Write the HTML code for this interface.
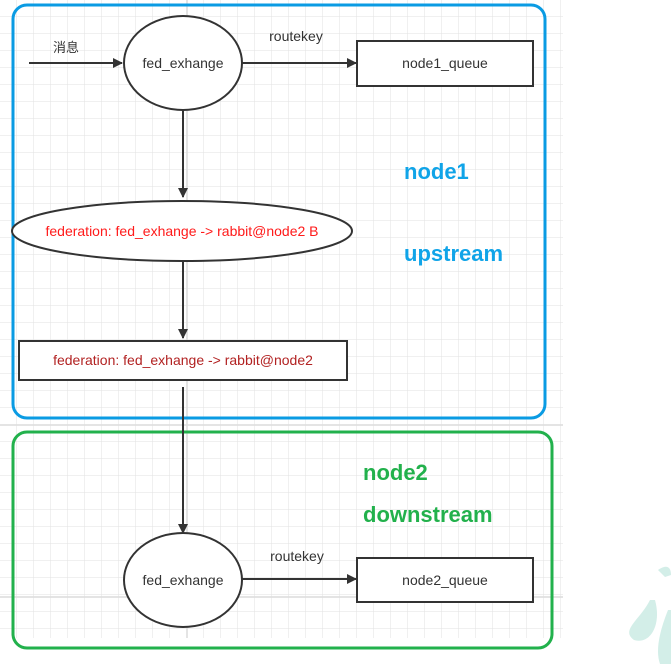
<!DOCTYPE html>
<html><head><meta charset="utf-8"><style>
html,body{margin:0;padding:0;background:#fff;}
svg{display:block;font-family:"Liberation Sans","Noto Sans CJK SC",sans-serif;}
</style></head><body>
<svg width="671" height="664" viewBox="0 0 671 664" xmlns="http://www.w3.org/2000/svg">
<defs>
<pattern id="g" x="0" y="0" width="17" height="17" patternUnits="userSpaceOnUse">
<path d="M17 0V17M0 17H17" stroke="#e2e2e2" stroke-width="1" fill="none"/>
</pattern>
<marker id="a" markerWidth="10" markerHeight="10" refX="9" refY="5" orient="auto" markerUnits="userSpaceOnUse">
<path d="M0,0 L10,5 L0,10 Z" fill="#333"/>
</marker>
</defs>
<rect x="0" y="0" width="563" height="638" fill="url(#g)"/>
<g stroke="#dcdcdc" stroke-width="1.5">
<line x1="0" y1="425" x2="563" y2="425"/>
<line x1="0" y1="597" x2="563" y2="597"/>
<line x1="187" y1="0" x2="187" y2="638"/>
</g>
<path d="M650 600 C 640 620, 620 630, 634 640 C 650 645, 662 625, 655 600 Z" fill="#d3eee8"/>
<path d="M668 610 C 660 630, 655 650, 660 664 L671 664 L671 610 Z" fill="#d3eee8"/>
<path d="M658 570 C 665 565, 671 565, 671 575 L665 577 Z" fill="#d3eee8"/>
<rect x="13" y="5" width="532" height="413" rx="14" fill="none" stroke="#0a9be3" stroke-width="3"/>
<rect x="13" y="432" width="539" height="216" rx="14" fill="none" stroke="#22b14c" stroke-width="3"/>
<g stroke="#333" stroke-width="2" fill="none">
<line x1="29" y1="63" x2="122" y2="63" marker-end="url(#a)"/>
<line x1="242" y1="63" x2="356" y2="63" marker-end="url(#a)"/>
<line x1="183" y1="110" x2="183" y2="197" marker-end="url(#a)"/>
<line x1="183" y1="262" x2="183" y2="338" marker-end="url(#a)"/>
<line x1="183" y1="387" x2="183" y2="533" marker-end="url(#a)"/>
<line x1="242" y1="579" x2="356" y2="579" marker-end="url(#a)"/>
</g>
<g stroke="#333" stroke-width="2" fill="#fff">
<ellipse cx="183" cy="63" rx="59" ry="47"/>
<ellipse cx="182" cy="231" rx="170" ry="30"/>
<rect x="19" y="341" width="328" height="39"/>
<ellipse cx="183" cy="580" rx="59" ry="47"/>
<rect x="357" y="41" width="176" height="45"/>
<rect x="357" y="558" width="176" height="44"/>
</g>
<g font-size="14" fill="#333" text-anchor="middle">
<text x="66" y="52" font-size="13">消息</text>
<text x="296" y="41">routekey</text>
<text x="297" y="561">routekey</text>
<text x="183" y="68">fed_exhange</text>
<text x="183" y="585">fed_exhange</text>
<text x="445" y="68">node1_queue</text>
<text x="445" y="585">node2_queue</text>
</g>
<text x="182" y="236" font-size="14" fill="#ff1a1a" text-anchor="middle">federation: fed_exhange -&gt; rabbit@node2 B</text>
<text x="183" y="365" font-size="14" fill="#b22222" text-anchor="middle">federation: fed_exhange -&gt; rabbit@node2</text>
<g font-size="22" font-weight="bold">
<text x="404" y="179" fill="#10a4e8">node1</text>
<text x="404" y="261" fill="#10a4e8">upstream</text>
<text x="363" y="480" fill="#22b14c">node2</text>
<text x="363" y="522" fill="#22b14c">downstream</text>
</g>
</svg>
</body></html>
